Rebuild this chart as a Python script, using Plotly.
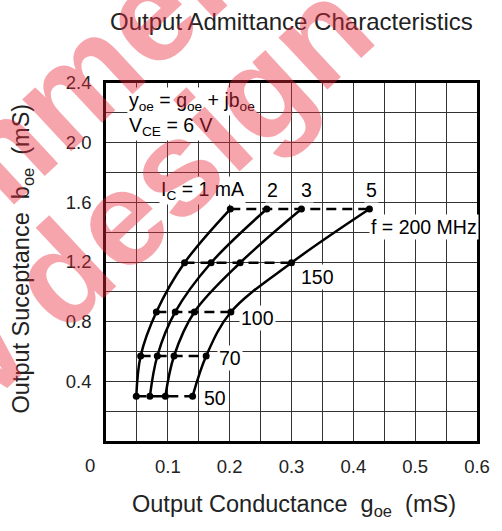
import plotly.graph_objects as go

# ---- data ----
freq_mhz = [50, 70, 100, 150, 200]
b_oe = [0.30, 0.57, 0.865, 1.195, 1.555]          # mS, same for each IC at a given f
g_1mA = [0.049, 0.056, 0.0815, 0.127, 0.201]
g_2mA = [0.071, 0.083, 0.112, 0.170, 0.260]
g_3mA = [0.096, 0.110, 0.143, 0.217, 0.316]
g_5mA = [0.140, 0.162, 0.202, 0.300, 0.426]
series = [g_1mA, g_2mA, g_3mA, g_5mA]
ic_labels = ["I<sub>C</sub> = 1 mA", "2", "3", "5"]

x_grid = [round(0.05 * k, 2) for k in range(1, 13)]
x_text = ["" if k % 2 else f"{0.05*k:.1f}" for k in range(1, 13)]
y_grid = [round(0.2 * k, 1) for k in range(1, 13)]
y_text = ["" if k % 2 else f"{0.2*k:.1f}" for k in range(1, 13)]

FONT = "Liberation Sans, Arial, sans-serif"

fig = go.Figure()

# dashed constant-frequency lines
for i, f in enumerate(freq_mhz):
    fig.add_trace(go.Scatter(
        x=[g_1mA[i], g_5mA[i]], y=[b_oe[i], b_oe[i]], mode="lines",
        line=dict(color="black", width=2.5, dash="10px,6px"),
        hoverinfo="skip", showlegend=False))

# constant-IC curves
for g in series:
    fig.add_trace(go.Scatter(
        x=g, y=b_oe, mode="lines+markers",
        line=dict(color="black", width=2.5, shape="spline", smoothing=1),
        marker=dict(color="black", size=7),
        showlegend=False))

L, R, T, B = 106, 23, 83, 90
W, H = 502, 531
PW, PH = W - L - R, H - T - B

def px(x):
    return (x - L) / PW

def py(y):
    return (H - B - y) / PH

ann = []
lbl_font = dict(family=FONT, size=19.5, color="black")
# IC labels
ic_x = [0.156, 0.269, 0.325, 0.4295]
for x, t in zip(ic_x, ic_labels):
    ann.append(dict(x=x, y=1.68, xref="x", yref="y", text=t, showarrow=False,
                    font=lbl_font, bgcolor="white", xanchor="center", yanchor="middle"))
# frequency labels
f_text = ["50", "70", "100", "150", "f = 200 MHz"]
f_x = [0.156, 0.180, 0.2155, 0.312, 0.4246]
f_y = [0.286, 0.554, 0.822, 1.097, 1.432]
for x, y, t in zip(f_x, f_y, f_text):
    ann.append(dict(x=x, y=y, xref="x", yref="y", text=t, showarrow=False,
                    font=lbl_font, bgcolor="white", xanchor="left", yanchor="middle"))
# formula
ann.append(dict(x=0.034, y=2.275, xref="x", yref="y",
                text="y<sub>oe</sub> = g<sub>oe</sub> + jb<sub>oe</sub>",
                showarrow=False, font=lbl_font, bgcolor="white",
                xanchor="left", yanchor="middle"))
ann.append(dict(x=0.034, y=2.11, xref="x", yref="y",
                text="V<sub>CE</sub> = 6 V",
                showarrow=False, font=lbl_font, bgcolor="white",
                xanchor="left", yanchor="middle"))
# origin label
ann.append(dict(x=px(90), y=py(465), xref="paper", yref="paper", text="0",
                showarrow=False, font=dict(family=FONT, size=18.5, color="#222"),
                xanchor="center", yanchor="middle"))
# title & axis titles
ann.append(dict(x=px(293), y=py(21), xref="paper", yref="paper",
                text="Output Admittance Characteristics", showarrow=False,
                font=dict(family=FONT, size=24, color="#222"),
                xanchor="center", yanchor="middle"))
ann.append(dict(x=px(295), y=py(505), xref="paper", yref="paper",
                text="Output Conductance\u00a0\u00a0g<sub>oe</sub>\u00a0\u00a0(mS)", showarrow=False,
                font=dict(family=FONT, size=23.5, color="#222"),
                xanchor="center", yanchor="middle"))
ann.append(dict(x=px(22), y=py(258), xref="paper", yref="paper",
                text="Output Suceptance\u00a0\u00a0b<sub>oe</sub>\u00a0\u00a0(mS)", showarrow=False,
                font=dict(family=FONT, size=23.5, color="#222"), textangle=-90,
                xanchor="center", yanchor="middle"))
# watermark
wm_font = dict(family="Liberation Sans", size=135,
               color="rgba(235,40,60,0.42)", weight="bold")
ann.append(dict(x=px(-40), y=py(190), xref="paper", yref="paper",
                text="<b>Not Recommended</b>", showarrow=False, font=wm_font,
                textangle=-43, xanchor="center", yanchor="middle"))
ann.append(dict(x=px(0), y=py(330), xref="paper", yref="paper",
                text="<b>for new design</b>", showarrow=False, font=wm_font,
                textangle=-43, xanchor="center", yanchor="middle"))

fig.update_layout(
    width=W, height=H,
    margin=dict(l=L, r=R, t=T, b=B),
    paper_bgcolor="white", plot_bgcolor="white",
    font=dict(family=FONT, size=18.5, color="#222"),
    annotations=ann,
    xaxis=dict(range=[0, 0.6], tickmode="array", tickvals=x_grid, ticktext=x_text,
               showgrid=True, gridcolor="#333", gridwidth=1.2, zeroline=False,
               showline=True, linecolor="black", linewidth=2.5, mirror=True,
               ticks="", ticklabelstandoff=7, fixedrange=True),
    yaxis=dict(range=[0, 2.4], tickmode="array", tickvals=y_grid, ticktext=y_text,
               showgrid=True, gridcolor="#333", gridwidth=1.2, zeroline=False,
               showline=True, linecolor="black", linewidth=2.5, mirror=True,
               ticks="", ticklabelstandoff=8, fixedrange=True),
)

fig.write_html("out.html")
